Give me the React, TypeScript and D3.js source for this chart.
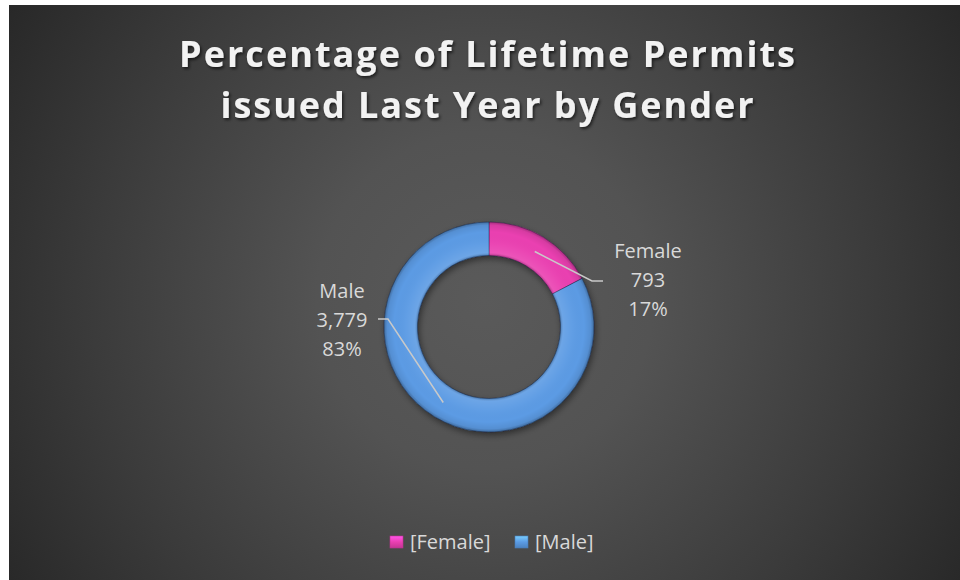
import React from "react";
import * as d3 from "d3";

const titleLines = ["Percentage of Lifetime Permits", "issued Last Year by Gender"];
const categories = ["Female", "Male"];
const values = [793, 3779];
const sliceColors = ["#ea3fb1", "#5b9be4"];
const legendLabels = ["[Female]", "[Male]"];

const W = 960;
const H = 580;
const CX = 489;
const CY = 327;
const R_OUT = 105;
const R_IN = 71.5;
const FONT = "'Open Sans', Lato, sans-serif";

export default function App() {
  const total = d3.sum(values);
  const pie = d3
    .pie<number>()
    .sort(null)
    .value((d) => d)
    .startAngle(0)
    .endAngle(2 * Math.PI);
  const arcs = pie(values);
  const arc = d3.arc<d3.PieArcDatum<number>>().innerRadius(R_IN).outerRadius(R_OUT);
  const ringArc = d3.arc<any>()({
    innerRadius: R_IN,
    outerRadius: R_OUT,
    startAngle: 0,
    endAngle: 2 * Math.PI,
  } as any) as string;
  const fmt = d3.format(",");
  const pct = d3.format(".0%");

  const labelLayout = [
    { elbow: [592, 281], end: [603, 281], tx: 648, ty: 258 },
    { elbow: [388, 319], end: [378, 319], tx: 342, ty: 298 },
  ];
  const legendLayout = [
    { mx: 390, tx: 410 },
    { mx: 515, tx: 535 },
  ];
  const lineGap = 29;

  return (
    <svg width={W} height={H} style={{ position: "fixed", left: 0, top: 0, display: "block" }}>
      <defs>
        <radialGradient id="bg" gradientUnits="userSpaceOnUse" cx={485} cy={300} r={560}>
          <stop offset="0" stopColor="#5a5a5a" />
          <stop offset="0.3" stopColor="#535353" />
          <stop offset="0.7" stopColor="#3b3b3b" />
          <stop offset="1" stopColor="#282828" />
        </radialGradient>
        <radialGradient id="bevel" gradientUnits="userSpaceOnUse" cx={0} cy={0} r={R_OUT}>
          <stop offset={R_IN / R_OUT} stopColor="#000" stopOpacity="0.25" />
          <stop offset={(R_IN + 3) / R_OUT} stopColor="#fff" stopOpacity="0.1" />
          <stop offset={(R_IN + 12) / R_OUT} stopColor="#fff" stopOpacity="0.03" />
          <stop offset={(R_OUT - 10) / R_OUT} stopColor="#000" stopOpacity="0" />
          <stop offset="0.97" stopColor="#000" stopOpacity="0.08" />
          <stop offset="1" stopColor="#000" stopOpacity="0.3" />
        </radialGradient>
        <filter id="ringShadow" x="-30%" y="-30%" width="160%" height="160%">
          <feDropShadow dx="1.5" dy="3" stdDeviation="3" floodColor="#000" floodOpacity="0.45" />
        </filter>
        <filter id="titleShadow" x="-10%" y="-30%" width="120%" height="160%">
          <feDropShadow dx="1.5" dy="2" stdDeviation="1.5" floodColor="#000" floodOpacity="0.6" />
        </filter>
        {sliceColors.map((c, i) => (
          <linearGradient key={i} id={`lg${i}`} x1="0" y1="0" x2="0" y2="1">
            <stop offset="0" stopColor={d3.color(c)!.brighter(0.8).formatHex()} />
            <stop offset="0.5" stopColor={c} />
            <stop offset="1" stopColor={d3.color(c)!.darker(0.5).formatHex()} />
          </linearGradient>
        ))}
      </defs>
      <rect x={0} y={0} width={W} height={H} fill="#ffffff" />
      <rect x={9} y={5} width={W - 9} height={H - 5} fill="url(#bg)" />

      <g filter="url(#titleShadow)">
        {titleLines.map((t, i) => (
          <text
            key={i}
            x={487}
            y={67 + i * 51}
            textAnchor="middle"
            fill="#f2f2f2"
            fontFamily={FONT}
            fontWeight={700}
            fontSize={36}
            textLength={i === 0 ? 616 : 533}
            lengthAdjust="spacing"
          >
            {t}
          </text>
        ))}
      </g>

      <g transform={`translate(${CX},${CY})`}>
        <g filter="url(#ringShadow)">
          {arcs.map((a, i) => (
            <path
              key={i}
              d={arc(a) as string}
              fill={sliceColors[i]}
              stroke="rgba(20,30,60,0.5)"
              strokeWidth={0.8}
            />
          ))}
        </g>
        <path d={ringArc} fill="url(#bevel)" />
      </g>

      {arcs.map((a, i) => {
        const [cx, cy] = arc.centroid(a);
        const L = labelLayout[i];
        const pts: [number, number][] = [
          [CX + cx, CY + cy],
          [L.elbow[0], L.elbow[1]],
          [L.end[0], L.end[1]],
        ];
        return (
          <path key={i} d={d3.line()(pts) as string} fill="none" stroke="#c9c9c9" strokeWidth={1.5} />
        );
      })}

      {arcs.map((a, i) => {
        const L = labelLayout[i];
        const lines = [categories[i], fmt(values[i]), pct(values[i] / total)];
        return (
          <text key={i} textAnchor="middle" fill="#d9d9d9" fontFamily={FONT} fontSize={20}>
            {lines.map((s, j) => (
              <tspan key={j} x={L.tx} y={L.ty + j * lineGap}>
                {s}
              </tspan>
            ))}
          </text>
        );
      })}

      {legendLabels.map((lbl, i) => {
        const L = legendLayout[i];
        return (
          <g key={i}>
            <rect
              x={L.mx}
              y={536}
              width={13}
              height={12}
              fill={`url(#lg${i})`}
              stroke={d3.color(sliceColors[i])!.darker(0.6).formatHex()}
              strokeWidth={0.6}
            />
            <text x={L.tx} y={549} fill="#d9d9d9" fontFamily={FONT} fontSize={20}>
              {lbl}
            </text>
          </g>
        );
      })}
    </svg>
  );
}
